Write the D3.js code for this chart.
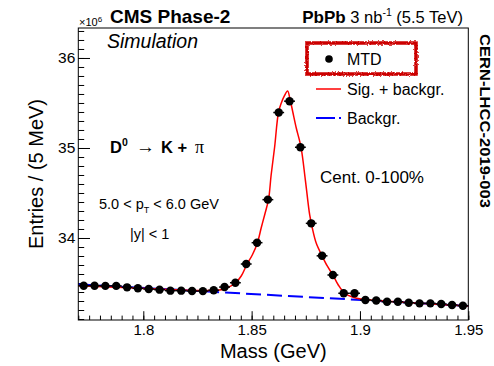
<!DOCTYPE html>
<html>
<head>
<meta charset="utf-8">
<script src="https://cdn.jsdelivr.net/npm/d3@7"></script>
<style>
  body { margin: 0; background: #fff; }
  svg { display: block; font-family: "Liberation Sans", Arial, sans-serif; }
</style>
</head>
<body>
<div id="chart"></div>
<script>
// D0 -> K pi invariant mass, entries in units of 10^6 per 5 MeV bin
var binMass = [1.7725, 1.7775, 1.7825, 1.7875, 1.7925, 1.7975, 1.8025, 1.8075, 1.8125,
  1.8175, 1.8225, 1.8275, 1.8325, 1.8375, 1.8425, 1.8475, 1.8525, 1.8575, 1.8625,
  1.8675, 1.8725, 1.8775, 1.8825, 1.8875, 1.8925, 1.8975, 1.9025, 1.9075, 1.9125,
  1.9175, 1.9225, 1.9275, 1.9325, 1.9375, 1.9425, 1.9475];
var entries = [33.470, 33.470, 33.468, 33.468, 33.452, 33.441, 33.433, 33.426, 33.415,
  33.415, 33.411, 33.410, 33.420, 33.455, 33.503, 33.711, 33.948, 34.426, 35.394,
  35.520, 35.008, 34.163, 33.802, 33.589, 33.386, 33.386, 33.311, 33.306, 33.292,
  33.292, 33.281, 33.274, 33.274, 33.267, 33.256, 33.248];
var binWidth = 0.005;

// fit curve (signal + background)
var fitMass = [1.7700, 1.7940, 1.8171, 1.8286, 1.8346, 1.8383, 1.8425, 1.8452, 1.8479,
  1.8503, 1.8527, 1.8544, 1.8560, 1.8578, 1.8590, 1.8606, 1.8624, 1.8637, 1.8651,
  1.8666, 1.8678, 1.8690, 1.8706, 1.8728, 1.8748, 1.8768, 1.8780, 1.8798, 1.8825,
  1.8849, 1.8875, 1.8900, 1.8928, 1.8965, 1.9011, 1.9094, 1.9278, 1.9500];
var fitValue = [33.469, 33.447, 33.422, 33.416, 33.420, 33.441, 33.500, 33.578, 33.711,
  33.811, 33.948, 34.111, 34.256, 34.428, 34.700, 35.008, 35.397, 35.500, 35.578,
  35.633, 35.533, 35.400, 35.222, 35.008, 34.644, 34.256, 34.111, 33.944, 33.802,
  33.689, 33.589, 33.478, 33.389, 33.344, 33.319, 33.302, 33.274, 33.244];

// linear background
var bkgMass = [1.77, 1.95];
var bkgValue = [33.485, 33.245];

var xTicks = [1.8, 1.85, 1.9, 1.95];
var yTicks = [34, 35, 36];

var config = {
  width: 494,
  height: 366,
  left: 78.3,
  right: 468.3,
  top: 28,
  bottom: 320,
  red: "#ff0000",
  blue: "#0000ff"
};

var svg = d3.select("#chart").append("svg")
  .attr("width", config.width)
  .attr("height", config.height);

var defs = svg.append("defs");
var rough = defs.append("filter").attr("id", "rough")
  .attr("x", "-10%").attr("y", "-20%").attr("width", "120%").attr("height", "140%");
rough.append("feTurbulence").attr("type", "fractalNoise").attr("baseFrequency", "0.6")
  .attr("numOctaves", 2).attr("seed", 3).attr("result", "noise");
rough.append("feDisplacementMap").attr("in", "SourceGraphic").attr("in2", "noise")
  .attr("scale", 3).attr("xChannelSelector", "R").attr("yChannelSelector", "G");

/* Scales */
var x = d3.scaleLinear().domain([1.77, 1.95]).range([config.left, config.right]);
var y = d3.scaleLinear().domain([33.089, 36.333]).range([config.bottom, config.top]);

/* Axes, ticks inside the frame like ROOT */
var minorX = d3.range(0, 37).map(function(i) { return 1.77 + i * 0.005; });
var minorY = d3.range(0, 33).map(function(i) { return 33.1 + i * 0.1; });

svg.append("g")
  .attr("transform", "translate(0," + config.bottom + ")")
  .call(d3.axisBottom(x).tickValues(minorX).tickSizeInner(-4.4).tickSizeOuter(0).tickFormat(""))
  .call(function(g) { g.select(".domain").remove(); });
svg.append("g")
  .attr("transform", "translate(0," + config.bottom + ")")
  .call(d3.axisBottom(x).tickValues(xTicks).tickSizeInner(-8.8).tickSizeOuter(0)
    .tickPadding(4).tickFormat(d3.format("")))
  .call(function(g) { g.select(".domain").remove(); })
  .selectAll("text").attr("font-size", 15).attr("fill", "#000")
  .attr("font-family", "Liberation Sans, Arial, sans-serif");

svg.append("g")
  .attr("transform", "translate(" + config.left + ",0)")
  .call(d3.axisLeft(y).tickValues(minorY).tickSizeInner(-5.9).tickSizeOuter(0).tickFormat(""))
  .call(function(g) { g.select(".domain").remove(); });
svg.append("g")
  .attr("transform", "translate(" + config.left + ",0)")
  .call(d3.axisLeft(y).tickValues(yTicks).tickSizeInner(-11.7).tickSizeOuter(0)
    .tickPadding(3).tickFormat(d3.format("d")))
  .call(function(g) { g.select(".domain").remove(); })
  .selectAll("text").attr("font-size", 15.5).attr("fill", "#000")
  .attr("font-family", "Liberation Sans, Arial, sans-serif");

svg.selectAll(".tick line").attr("stroke", "#000").attr("stroke-width", 1);

/* Background dashed line */
var line = d3.line().x(function(d) { return x(d[0]); }).y(function(d) { return y(d[1]); });
var bkgPts = bkgMass.map(function(m, i) { return [m, bkgValue[i]]; });
svg.append("path")
  .attr("d", line(bkgPts))
  .attr("fill", "none")
  .attr("stroke", config.blue)
  .attr("stroke-width", 2)
  .attr("stroke-dasharray", "15,6");

/* Fit curve */
var fitPts = fitMass.map(function(m, i) { return [m, fitValue[i]]; });
svg.append("path")
  .attr("d", line.curve(d3.curveCatmullRom.alpha(0.5))(fitPts))
  .attr("fill", "none")
  .attr("stroke", config.red)
  .attr("stroke-width", 1.5);

/* Data points with x error bars */
var pts = svg.append("g").attr("class", "points");
pts.selectAll("line")
  .data(binMass)
  .enter()
  .append("line")
  .attr("x1", function(d) { return x(d - binWidth / 2); })
  .attr("x2", function(d) { return x(d + binWidth / 2); })
  .attr("y1", function(d, i) { return y(entries[i]); })
  .attr("y2", function(d, i) { return y(entries[i]); })
  .attr("stroke", "#000")
  .attr("stroke-width", 1.5);
pts.selectAll("circle")
  .data(binMass)
  .enter()
  .append("circle")
  .attr("cx", function(d) { return x(d); })
  .attr("cy", function(d, i) { return y(entries[i]); })
  .attr("r", 4.2)
  .attr("fill", "#000");

/* Frame */
svg.append("rect")
  .attr("x", config.left)
  .attr("y", config.top)
  .attr("width", config.right - config.left)
  .attr("height", config.bottom - config.top)
  .attr("fill", "none")
  .attr("stroke", "#000")
  .attr("stroke-width", 1);

/* Axis titles */
svg.append("text")
  .attr("x", (config.left + config.right) / 2)
  .attr("y", 358)
  .attr("text-anchor", "middle")
  .attr("font-size", 20)
  .text("Mass (GeV)");

svg.append("text")
  .attr("transform", "translate(43," + (config.top + config.bottom) / 2 + ") rotate(-90)")
  .attr("text-anchor", "middle")
  .attr("font-size", 20)
  .text("Entries / (5 MeV)");

var exp = svg.append("text").attr("x", 79).attr("y", 26).attr("font-size", 11).text("\u00d710");
exp.append("tspan").attr("dy", -4).attr("font-size", 8).text("6");

/* Header */
svg.append("text")
  .attr("x", 110).attr("y", 23)
  .attr("font-size", 19).attr("font-weight", "bold")
  .text("CMS Phase-2");

var lumi = svg.append("text")
  .attr("x", 463).attr("y", 23)
  .attr("text-anchor", "end")
  .attr("font-size", 16.5);
lumi.append("tspan").attr("font-weight", "bold").attr("font-size", 17).text("PbPb");
lumi.append("tspan").text(" 3 nb");
lumi.append("tspan").attr("dy", -7).attr("font-size", 10.5).text("-1");
lumi.append("tspan").attr("dy", 7).text(" (5.5 TeV)");

svg.append("text")
  .attr("x", 107).attr("y", 48)
  .attr("font-size", 19.5).attr("font-style", "italic")
  .text("Simulation");

svg.append("text")
  .attr("transform", "translate(480,34) rotate(90)")
  .attr("font-size", 15).attr("font-weight", "bold")
  .attr("textLength", 174).attr("lengthAdjust", "spacingAndGlyphs")
  .text("CERN-LHCC-2019-003");

/* Legend */
svg.append("rect")
  .attr("x", 307).attr("y", 43).attr("width", 109).attr("height", 31)
  .attr("fill", "none")
  .attr("stroke", "#cc0000")
  .attr("stroke-width", 3.5)
  .attr("filter", "url(#rough)");
svg.append("circle").attr("cx", 329).attr("cy", 59).attr("r", 3.8).attr("fill", "#000");
svg.append("text").attr("x", 347).attr("y", 65).attr("font-size", 16).text("MTD");
svg.append("line").attr("x1", 316).attr("x2", 341).attr("y1", 89).attr("y2", 89)
  .attr("stroke", config.red).attr("stroke-width", 1.5);
svg.append("text").attr("x", 347).attr("y", 95).attr("font-size", 16).text("Sig. + backgr.");
svg.append("line").attr("x1", 316).attr("x2", 341).attr("y1", 118).attr("y2", 118)
  .attr("stroke", config.blue).attr("stroke-width", 2).attr("stroke-dasharray", "19,4,2,10");
svg.append("text").attr("x", 347).attr("y", 124).attr("font-size", 16).text("Backgr.");

/* Annotations */
var decay = svg.append("text").attr("x", 110).attr("y", 153).attr("font-size", 16.5);
decay.append("tspan").attr("font-weight", "bold").text("D");
decay.append("tspan").attr("font-weight", "bold").attr("dy", -7).attr("font-size", 10.5).text("0");
decay.append("tspan").attr("x", 136).attr("dy", 7).attr("font-size", 19).text("\u2192");
decay.append("tspan").attr("x", 161).attr("font-weight", "bold").text("K + ");
decay.append("tspan").attr("x", 195).attr("font-family", "Liberation Serif, serif").attr("font-size", 18).text("\u03c0");

var pt = svg.append("text").attr("x", 99).attr("y", 209).attr("font-size", 14.5);
pt.append("tspan").text("5.0 < p");
pt.append("tspan").attr("dy", 4).attr("font-size", 9).text("T");
pt.append("tspan").attr("dy", -4).text(" < 6.0 GeV");

svg.append("text").attr("x", 130).attr("y", 239).attr("font-size", 14.5).text("|y| < 1");

svg.append("text").attr("x", 320).attr("y", 183).attr("font-size", 17).text("Cent. 0-100%");
</script>
</body>
</html>
